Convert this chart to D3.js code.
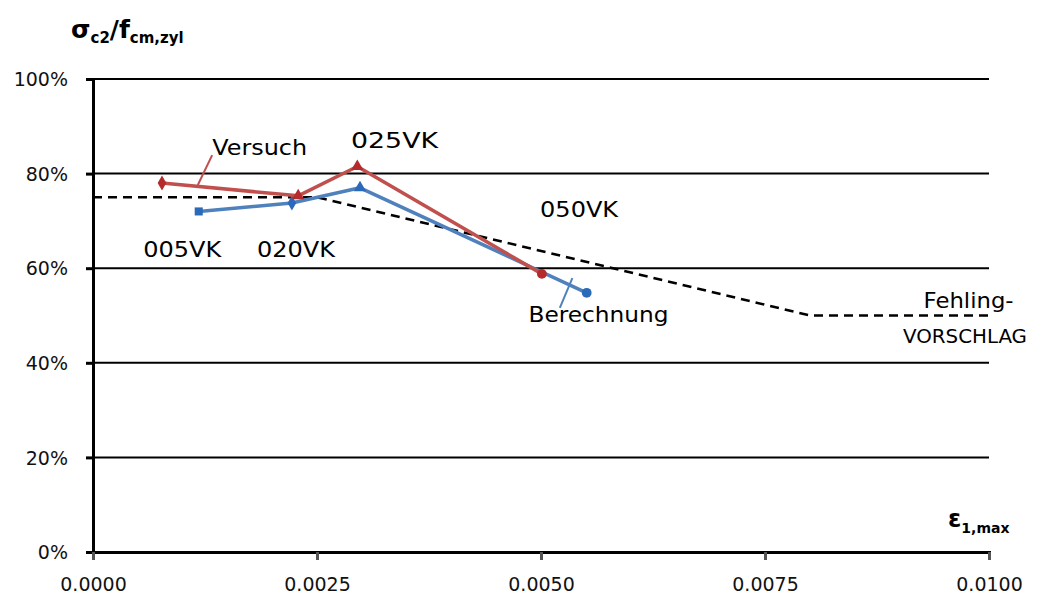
<!DOCTYPE html>
<html><head><meta charset="utf-8">
<script src="https://cdn.jsdelivr.net/npm/d3@7"></script>
<style>body{margin:0;background:#fff;} svg{display:block;}</style>
</head><body>
<svg id="c" width="1037" height="598"></svg>
<script>
const xTicks = [0, 0.0025, 0.005, 0.0075, 0.01];
const yTicks = [0, 0.2, 0.4, 0.6, 0.8, 1.0];
const versuchX = [0.00077, 0.00229, 0.00295, 0.00501];
const versuchY = [0.78, 0.753, 0.815, 0.588];
const versuchMarkers = ["diamond", "triangle", "triangle", "circle"];
const berechnungX = [0.00118, 0.00222, 0.00298, 0.00551];
const berechnungY = [0.72, 0.738, 0.77, 0.548];
const berechnungMarkers = ["square", "diamond", "triangle", "circle"];
const fehlingX = [0, 0.0025, 0.008, 0.01];
const fehlingY = [0.75, 0.75, 0.5, 0.5];
const labelText = ["Versuch", "025VK", "005VK", "020VK", "050VK", "Berechnung", "Fehling-", "VORSCHLAG"];
const labelX = [0.00133, 0.00288, 0.00056, 0.00183, 0.00499, 0.00486, 0.00927, 0.00904];
const labelY = [0.839, 0.855, 0.623, 0.623, 0.708, 0.487, 0.516, 0.442];
const labelLen = [95, 87, 78, 78, 78, 140, 90, 124];
const labelSize = [22, 22, 22, 22, 22, 22, 22, 20];

const svg = d3.select("#c");
const x = d3.scaleLinear().domain([0, 0.01]).range([93, 989]);
const y = d3.scaleLinear().domain([0, 1]).range([552, 79]);
const font = "'DejaVu Sans', sans-serif";

// gridlines
svg.append("g").selectAll("line").data(yTicks.filter(d => d > 0)).join("line")
  .attr("x1", x(0)).attr("x2", x(0.01)).attr("y1", d => y(d)).attr("y2", d => y(d))
  .attr("stroke", "#000").attr("stroke-width", 2);

// axes
const yAxis = d3.axisLeft(y).tickValues(yTicks).tickFormat(d3.format(".0%")).tickSize(7).tickPadding(18);
const gy = svg.append("g").attr("transform", `translate(${x(0)},0)`).call(yAxis);
gy.select(".domain").attr("stroke", "#000").attr("stroke-width", 3);
gy.selectAll(".tick line").attr("stroke", "#000").attr("stroke-width", 3);
gy.selectAll("text").attr("font-family", font).attr("font-size", 19).attr("fill", "#111").attr("dy", "0.35em");

const xAxis = d3.axisBottom(x).tickValues(xTicks).tickFormat(d3.format(".4f")).tickSize(8).tickPadding(18);
const gx = svg.append("g").attr("transform", `translate(0,${y(0)})`).call(xAxis);
gx.select(".domain").attr("stroke", "#000").attr("stroke-width", 3);
gx.selectAll(".tick line").attr("stroke", "#555").attr("stroke-width", 3);
gx.selectAll("text").attr("font-family", font).attr("font-size", 19).attr("fill", "#111");

// Fehling dashed
const line = d3.line().x(d => x(d[0])).y(d => y(d[1]));
svg.append("path").datum(d3.zip(fehlingX, fehlingY)).attr("d", line)
  .attr("fill", "none").attr("stroke", "#000").attr("stroke-width", 2.5).attr("stroke-dasharray", "9,6");

function series(xs, ys, markers, lineColor, markColor) {
  const data = d3.zip(xs, ys);
  svg.append("path").datum(data).attr("d", line)
    .attr("fill", "none").attr("stroke", lineColor).attr("stroke-width", 3.5).attr("stroke-linejoin", "round");
  const sym = {diamond: d3.symbolDiamond, triangle: d3.symbolTriangle, circle: d3.symbolCircle, square: d3.symbolSquare};
  svg.append("g").selectAll("path").data(data).join("path")
    .attr("transform", d => `translate(${x(d[0])},${y(d[1])})`)
    .attr("d", (d, i) => d3.symbol().type(sym[markers[i]]).size(markers[i] === "circle" ? 75 : 65)())
    .attr("fill", markColor);
}
series(berechnungX, berechnungY, berechnungMarkers, "#4f81bd", "#2a6ab8");
series(versuchX, versuchY, versuchMarkers, "#c0504d", "#b52a2a");

// leader lines
svg.append("line").attr("x1", x(0.00117)).attr("y1", y(0.776)).attr("x2", x(0.00133)).attr("y2", y(0.839))
  .attr("stroke", "#c0504d").attr("stroke-width", 2);
svg.append("line").attr("x1", x(0.00535)).attr("y1", y(0.579)).attr("x2", x(0.00521)).attr("y2", y(0.516))
  .attr("stroke", "#4f81bd").attr("stroke-width", 2);

// labels
svg.append("g").selectAll("text").data(labelText).join("text")
  .attr("x", (d, i) => x(labelX[i])).attr("y", (d, i) => y(labelY[i]))
  .attr("font-family", font).attr("font-size", (d, i) => labelSize[i]).attr("fill", "#000")
  .attr("textLength", (d, i) => labelLen[i]).attr("lengthAdjust", "spacingAndGlyphs")
  .text(d => d);

// axis titles
const t1 = svg.append("text").attr("x", 71).attr("y", 38).attr("font-family", font).attr("font-weight", "bold").attr("fill", "#000");
t1.append("tspan").attr("font-size", 25).text("σ");
t1.append("tspan").attr("font-size", 15).attr("dy", 5).text("c2");
t1.append("tspan").attr("font-size", 25).attr("dy", -5).text("/f");
t1.append("tspan").attr("font-size", 15).attr("dy", 5).text("cm,zyl");

const t2 = svg.append("text").attr("x", 948).attr("y", 527).attr("font-family", font).attr("font-weight", "bold").attr("fill", "#000");
t2.append("tspan").attr("font-size", 24).text("ε");
t2.append("tspan").attr("font-size", 14).attr("dy", 6).text("1,max");
</script>
</body></html>
